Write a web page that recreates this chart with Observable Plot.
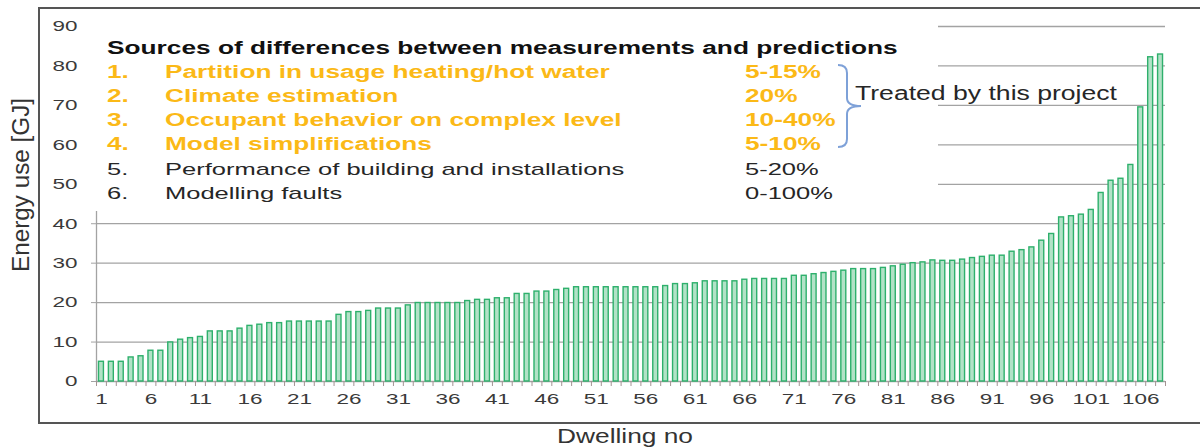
<!DOCTYPE html>
<html><head><meta charset="utf-8">
<script src="https://cdn.jsdelivr.net/npm/d3@7"></script>
<script src="https://cdn.jsdelivr.net/npm/@observablehq/plot@0.6"></script>
<style>html,body{margin:0;padding:0;background:#fff;} #chart svg{display:block;}</style>
</head><body><div id="chart"></div>
<script>
// ---- data ----
const dwellings = d3.range(1, 109);
const energyGJ = [
  5.0, 5.0, 5.0, 6.1, 6.4, 7.8, 7.8, 9.9, 10.6, 11.0, 11.3, 12.7, 12.7, 12.7, 13.4, 14.1, 14.4, 14.8, 14.8, 15.2,
  15.2, 15.2, 15.2, 15.2, 16.9, 17.6, 17.6, 17.9, 18.5,
  18.5, 18.5, 19.3, 19.9, 19.9, 19.9, 19.9, 19.9, 20.4, 20.7, 20.7, 21.1, 21.1, 22.2, 22.2, 22.8, 22.8, 23.2, 23.5,
  23.9, 23.9, 23.9, 23.9, 23.9, 23.9, 23.9, 23.9, 23.9, 24.2,
  24.7, 24.7, 24.9, 25.4, 25.4, 25.4, 25.4, 25.8, 26.0, 26.0, 26.0, 26.0, 26.8, 26.8, 27.2, 27.5, 27.8, 28.1,
  28.5, 28.5, 28.5, 28.8, 29.2, 29.6, 30.0, 30.2, 30.7,
  30.6, 30.6, 30.9, 31.3, 31.6, 31.9, 31.9, 32.9, 33.3, 34.0, 35.7, 37.4, 41.6, 41.9, 42.3, 43.5, 47.8, 50.9,
  51.4, 54.9, 69.5, 82.2, 82.9
];
const xTickLabels = d3.range(1, 107, 5);
const yTicks = d3.range(0, 91, 10);
const yAxisTitle = "Energy use [GJ]";
const xAxisTitle = "Dwelling no";
const sourcesTitle = "Sources of differences between measurements and predictions";
const sourceLabels = [
  "Partition in usage heating/hot water",
  "Climate estimation",
  "Occupant behavior on complex level",
  "Model simplifications",
  "Performance of building and installations",
  "Modelling faults"
];
const sourceRanges = ["5-15%", "20%", "10-40%", "5-10%", "5-20%", "0-100%"];
const treatedBy = [true, true, true, true, false, false];
const treatedNote = "Treated by this project";

// ---- layout ----
const W = 1200, H = 448, mL = 96, mR = 35, mT = 26, mB = 67;
const step = (W - mL - mR) / dwellings.length;
const K = 1.5; // horizontal text stretch of the reference
const FONT = "'Liberation Sans', Arial, sans-serif";
const table = dwellings.map((d, i) => ({dwelling: d, energy: energyGJ[i]}));

const plot = Plot.plot({
  width: W, height: H,
  marginLeft: mL, marginRight: mR, marginTop: mT, marginBottom: mB,
  style: {fontFamily: FONT, fontSize: "15px", color: "#3a3a3a", background: "#fff", overflow: "visible"},
  x: {type: "band", domain: dwellings, paddingInner: 0.5, paddingOuter: 0.25, label: null},
  y: {domain: [0, 90], label: null},
  marks: [
    Plot.ruleY(yTicks, {stroke: "#a3a3a3", strokeWidth: 1.3}),
    Plot.frame({anchor: "left", stroke: "#a3a3a3", strokeWidth: 1.3}),
    Plot.barY(table, {x: "dwelling", y: "energy", fill: "#b2e2c7", stroke: "#2eb06c", strokeWidth: 1.4}),
    Plot.axisY({ticks: yTicks, tickSize: 5, tickPadding: 14, stroke: "#a3a3a3", label: null}),
    Plot.axisX({ticks: xTickLabels, tickSize: 0, tickPadding: 12, label: null}),
    Plot.axisX({ticks: dwellings, tickSize: 5, tickFormat: () => "", dx: -step / 2, stroke: "#a39393", label: null}),
    Plot.axisX({ticks: [dwellings[dwellings.length - 1]], tickSize: 5, tickFormat: () => "", dx: step / 2, stroke: "#a39393", label: null})
  ]
});
document.getElementById("chart").appendChild(plot);

function stretch(node, k) {
  const w = node.getComputedTextLength();
  if (w > 0) {
    node.setAttribute("textLength", (w * k).toFixed(1));
    node.setAttribute("lengthAdjust", "spacingAndGlyphs");
  }
}
const svg = d3.select(plot);
svg.selectAll('g[aria-label$="tick label"] text').each(function () { stretch(this, K); });

// ---- annotation box ----
const g = svg.append("g").attr("font-family", FONT).attr("text-anchor", "start");
g.append("rect").attr("x", 86).attr("y", 11).attr("width", 852).attr("height", 200).attr("fill", "#fff");

function addText(str, x, y, size, weight, fill) {
  const t = g.append("text").attr("x", x).attr("y", y).attr("text-anchor", "start")
    .attr("font-size", size).attr("font-weight", weight).attr("fill", fill).text(str);
  stretch(t.node(), K);
  return t;
}
addText(sourcesTitle, 107, 53.5, 17.5, "bold", "#111");
const orange = "#fbb917";
sourceLabels.forEach((lab, i) => {
  const y = 77.5 + i * 24.3;
  const hot = treatedBy[i];
  const size = hot ? 17.5 : 17;
  const weight = hot ? "bold" : "normal";
  const fill = hot ? orange : "#262626";
  addText(`${i + 1}.`, 107, y, size, weight, fill);
  addText(lab, 165, y, size, weight, fill);
  addText(sourceRanges[i], 745, y, size, weight, fill);
});

// bracket
g.append("path")
  .attr("d", "M838,65 Q847,65 847,73 L847,98 Q847,106 861,106 Q847,106 847,114 L847,139 Q847,147 838,147")
  .attr("fill", "none").attr("stroke", "#7ea1d8").attr("stroke-width", 2);
g.append("text").attr("x", 855).attr("y", 100).attr("text-anchor", "start").attr("font-size", 20).attr("fill", "#262626")
  .attr("textLength", 262).attr("lengthAdjust", "spacingAndGlyphs").text(treatedNote);

// axis titles
g.append("text").attr("transform", "translate(28.5,185) scale(1.5,1) rotate(-90)")
  .attr("text-anchor", "middle").attr("font-size", 15.5).attr("fill", "#333")
  .attr("textLength", 174).attr("lengthAdjust", "spacingAndGlyphs").text(yAxisTitle);
g.append("text").attr("x", 557).attr("y", 443).attr("text-anchor", "start").attr("font-size", 20).attr("fill", "#333")
  .attr("textLength", 136).attr("lengthAdjust", "spacingAndGlyphs").text(xAxisTitle);

// outer frame
g.append("rect").attr("x", 39).attr("y", 8).attr("width", 1200).attr("height", 415)
  .attr("fill", "none").attr("stroke", "#555").attr("stroke-width", 2);
</script>
</body></html>
